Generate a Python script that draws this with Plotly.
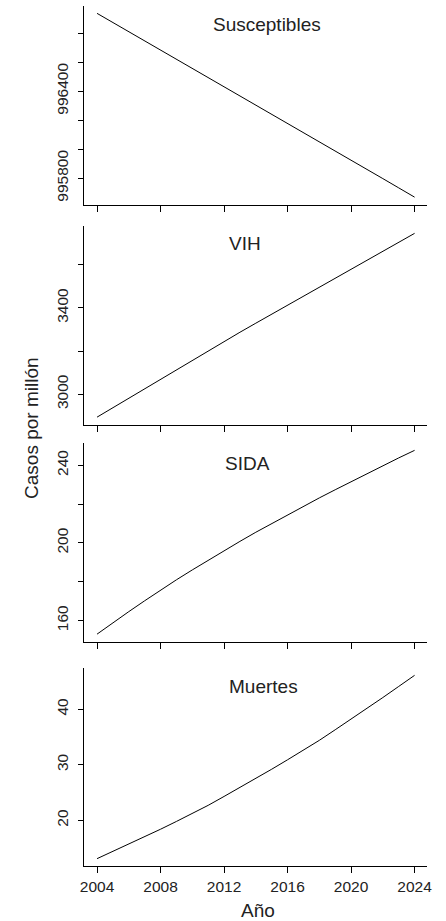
import plotly.graph_objects as go

# ---- data ----
years = list(range(2004, 2025))

susceptibles = [996936, 996873, 996809, 996746, 996683, 996620, 996556, 996493,
                996430, 996367, 996303, 996240, 996177, 996114, 996050, 995987,
                995924, 995860, 995797, 995733, 995669]
vih = [2893, 2937, 2982, 3026, 3071, 3115, 3158, 3202, 3245, 3287, 3329,
       3371, 3413, 3455, 3497, 3539, 3581, 3622, 3664, 3705, 3746]
sida = [153.0, 158.9, 164.6, 170.2, 175.7, 181.0, 186.1, 191.1, 196.0, 200.8,
        205.5, 210.0, 214.5, 218.9, 223.2, 227.4, 231.6, 235.7, 239.8, 243.8, 247.7]
muertes = [13.1, 14.4, 15.7, 17.0, 18.4, 19.8, 21.2, 22.7, 24.3, 25.9, 27.5,
           29.2, 30.9, 32.6, 34.4, 36.3, 38.2, 40.1, 42.1, 44.1, 46.1]

panel_names = ["Susceptibles", "VIH", "SIDA", "Muertes"]
series = [susceptibles, vih, sida, muertes]

x_ticks = [2004, 2008, 2012, 2016, 2020, 2024]
y_ticks = [
    [995800, 996000, 996200, 996400, 996600, 996800],
    [3000, 3200, 3400, 3600],
    [160, 180, 200, 220, 240],
    [20, 30, 40],
]
y_ticklabels = [
    ["995800", "", "", "996400", "", ""],
    ["3000", "", "3400", ""],
    ["160", "", "200", "", "240"],
    ["20", "30", "40"],
]

# ---- layout geometry (pixels) ----
W, H = 446, 921
x_left, x_right = 82, 432
panels_px = [(6, 204.5), (226, 424.5), (443, 641.5), (668, 866)]
label_pos = [(268, 24), (246, 243.5), (249, 463.5), (265, 686.5)]

FONT = "Liberation Sans, Arial, Helvetica, sans-serif"
TXT = "#222222"

def px_x(p):
    return p / W

def px_y(p):
    return 1 - p / H

fig = go.Figure()
layout = dict(
    width=W, height=H,
    margin=dict(l=0, r=0, t=0, b=0),
    paper_bgcolor="white", plot_bgcolor="white",
    showlegend=False,
    font=dict(family=FONT, color=TXT, size=15.5),
    annotations=[],
)

xr = [2004 - 0.04 * 20, 2024 + 0.04 * 20]

for i, (name, vals) in enumerate(zip(panel_names, series)):
    k = "" if i == 0 else str(i + 1)
    fig.add_trace(go.Scatter(
        x=years, y=vals, mode="lines",
        line=dict(color="black", width=1),
        xaxis="x" + k, yaxis="y" + k, hoverinfo="skip",
    ))
    lo, hi = min(vals), max(vals)
    pad = 0.04 * (hi - lo)
    top, bot = panels_px[i]
    layout["xaxis" + k] = dict(
        domain=[px_x(x_left), px_x(x_right)],
        anchor="y" + k,
        range=xr,
        tickvals=x_ticks,
        ticktext=[str(t) for t in x_ticks],
        showticklabels=(i == 3),
        ticks="outside", ticklen=6, tickwidth=1, tickcolor="black",
        showline=True, linecolor="black", linewidth=1,
        showgrid=False, zeroline=False,
        tickfont=dict(size=15.5, color=TXT, family=FONT),
    )
    layout["yaxis" + k] = dict(
        domain=[px_y(bot), px_y(top)],
        anchor="x" + k,
        range=[lo - pad, hi + pad],
        tickvals=y_ticks[i],
        ticktext=y_ticklabels[i],
        tickangle=-90,
        ticks="outside", ticklen=5, tickwidth=1, tickcolor="black",
        ticklabelstandoff=4,
        showline=True, linecolor="black", linewidth=1,
        showgrid=False, zeroline=False,
        tickfont=dict(size=15.5, color=TXT, family=FONT),
    )
    lx, ly = label_pos[i]
    layout["annotations"].append(dict(
        text=name, x=px_x(lx), y=px_y(ly), xref="paper", yref="paper",
        xanchor="center", yanchor="middle", showarrow=False,
        font=dict(size=19, color=TXT, family=FONT),
    ))

layout["annotations"].append(dict(
    text="Año", x=px_x(259), y=px_y(910), xref="paper", yref="paper",
    xanchor="center", yanchor="middle", showarrow=False,
    font=dict(size=19, color=TXT, family=FONT),
))
layout["annotations"].append(dict(
    text="Casos por millón", x=px_x(28), y=px_y(427.5), xref="paper", yref="paper",
    xanchor="center", yanchor="middle", showarrow=False, textangle=-90,
    font=dict(size=19, color=TXT, family=FONT),
))

fig.update_layout(**layout)
fig.write_html(
    "out.html",
    config={"displayModeBar": False, "staticPlot": True},
    post_script="document.body.style.margin='0';document.body.style.padding='0';"
                "document.documentElement.style.overflow='hidden';",
)
